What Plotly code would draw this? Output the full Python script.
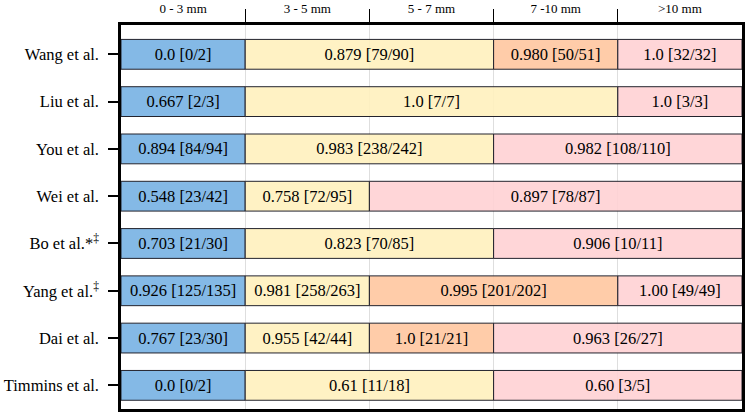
import plotly.graph_objects as go

# ---- data ----
studies = ["Wang et al.", "Liu et al.", "You et al.", "Wei et al.",
           "Bo et al.*<sup>‡</sup>", "Yang et al.<sup>‡</sup>", "Dai et al.", "Timmins et al."]
size_bins = ["0 - 3 mm", "3 - 5 mm", "5 - 7 mm", "7 -10 mm", ">10 mm"]

# first / last size bin covered by each segment
seg_first = [[0, 1, 3, 4], [0, 1, 4], [0, 1, 3], [0, 1, 2], [0, 1, 3], [0, 1, 2, 4], [0, 1, 2, 3], [0, 1, 3]]
seg_last = [[0, 2, 3, 4], [0, 3, 4], [0, 2, 4], [0, 1, 4], [0, 2, 4], [0, 1, 3, 4], [0, 1, 2, 4], [0, 2, 4]]
seg_group = [["blue", "yellow", "orange", "pink"], ["blue", "yellow", "pink"], ["blue", "yellow", "pink"],
             ["blue", "yellow", "pink"], ["blue", "yellow", "pink"], ["blue", "yellow", "orange", "pink"],
             ["blue", "yellow", "orange", "pink"], ["blue", "yellow", "pink"]]
seg_rate = [["0.0", "0.879", "0.980", "1.0"], ["0.667", "1.0", "1.0"], ["0.894", "0.983", "0.982"],
            ["0.548", "0.758", "0.897"], ["0.703", "0.823", "0.906"], ["0.926", "0.981", "0.995", "1.00"],
            ["0.767", "0.955", "1.0", "0.963"], ["0.0", "0.61", "0.60"]]
seg_hits = [[0, 79, 50, 32], [2, 7, 3], [84, 238, 108], [23, 72, 78], [21, 70, 10], [125, 258, 201, 49],
            [23, 42, 21, 26], [0, 11, 3]]
seg_total = [[2, 90, 51, 32], [3, 7, 3], [94, 242, 110], [42, 95, 87], [30, 85, 11], [135, 263, 202, 49],
             [30, 44, 21, 27], [2, 18, 5]]

colors = {
    "blue": "rgba(119,177,227,0.9)",
    "yellow": "rgba(255,241,190,0.9)",
    "orange": "rgba(255,198,160,0.9)",
    "pink": "rgba(255,209,212,0.9)",
}

FONT = "Liberation Serif"

fig = go.Figure()
for grp in ["blue", "yellow", "orange", "pink"]:
    ys, bases, widths, texts = [], [], [], []
    for r in range(len(studies)):
        for k, g in enumerate(seg_group[r]):
            if g != grp:
                continue
            ys.append(r)
            bases.append(seg_first[r][k])
            widths.append(seg_last[r][k] - seg_first[r][k] + 1)
            texts.append(f"{seg_rate[r][k]} [{seg_hits[r][k]}/{seg_total[r][k]}]")
    fig.add_trace(go.Bar(
        y=ys, x=widths, base=bases, orientation="h", width=0.63,
        marker=dict(color=colors[grp], line=dict(color="rgb(35,35,45)", width=1)),
        text=texts, textposition="inside", insidetextanchor="middle", textangle=0,
        constraintext="none",
        textfont=dict(family=FONT, size=16.5, color="black"),
        showlegend=False, hoverinfo="skip",
    ))

# dummy trace to activate the label axis
fig.add_trace(go.Scatter(x=[None], y=[None], xaxis="x2", showlegend=False, hoverinfo="skip"))

fig.update_layout(
    width=748, height=416,
    margin=dict(l=121, r=6, t=25, b=7),
    paper_bgcolor="white", plot_bgcolor="white",
    barmode="overlay",
    font=dict(family=FONT, color="black"),
    xaxis=dict(
        range=[0, 5], side="top", tickvals=[1, 2, 3, 4], showticklabels=False,
        ticks="outside", ticklen=13, tickwidth=1.3, tickcolor="black",
        showgrid=True, gridcolor="rgb(222,222,222)", gridwidth=1,
        showline=True, mirror=True, linecolor="black", linewidth=2.5, zeroline=False,
        automargin=False,
    ),
    xaxis2=dict(
        range=[0, 5], overlaying="x", side="top",
        tickvals=[0.5, 1.5, 2.5, 3.5, 4.5], ticktext=size_bins,
        ticks="outside", ticklen=6, tickcolor="rgba(0,0,0,0)",
        tickfont=dict(family=FONT, size=13, color="black"),
        showgrid=False, showline=False, zeroline=False, automargin=False,
    ),
    yaxis=dict(
        range=[7.5, -0.62], tickvals=list(range(len(studies))), ticktext=studies,
        ticks="outside", ticklen=10, tickwidth=1.5, tickcolor="black",
        tickfont=dict(family=FONT, size=16.5, color="black"),
        ticklabelstandoff=6, automargin=False,
        showgrid=False, showline=True, mirror=True, linecolor="black", linewidth=2.5,
        zeroline=False,
    ),
)

fig.write_html("out.html", config={"displayModeBar": False},
               post_script="document.body.style.margin='0';")
